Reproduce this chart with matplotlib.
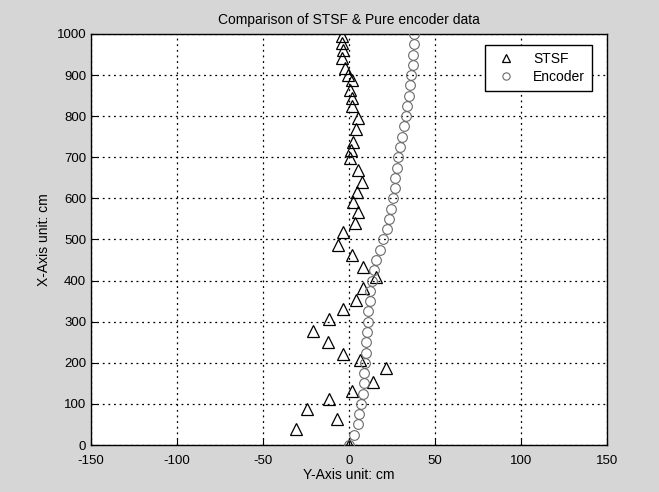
import numpy as np
import matplotlib
matplotlib.use('Agg')
import matplotlib.pyplot as plt

plt.rcParams['font.family'] = ['Liberation Sans Narrow', 'Liberation Sans', 'DejaVu Sans']
plt.rcParams['axes.unicode_minus'] = False

# STSF points (lateral, forward)
stsf_x = [0, -31, -7, -24.6, -11.6, 2, 14, 21.5, 6.4, -3.7, -12.4, -21, -11.6, -3.7, 4, 8.3,
          16, 8, 1.7, -6.4, -3.5, 3.5, 5.4, 2.5, 4.6, 7.5, 5.4, 0.6, 1, 2.5, 4, 5.4, 1.5, 1.5,
          0.6, 1.5, -0.6, -2.3, -4.3, -3.5, -4.3, -4.3]
stsf_y = [0, 39, 63, 88, 112, 131, 153, 187, 207, 221, 251, 278, 306, 331, 353, 382,
          409, 433, 462, 487, 518, 540, 567, 591, 615, 640, 669, 698, 718, 737, 768, 796, 825, 844,
          863, 888, 900, 917, 942, 961, 978, 995]

# encoder points
enc_y = [0, 25, 50, 75, 100, 125, 150, 175, 200, 225, 250, 275, 300, 325, 350, 375, 400,
         425, 450, 475, 500, 525, 550, 575, 600, 625, 650, 675, 700, 725, 750, 775, 800,
         825, 850, 875, 900, 925, 950, 975, 1000]
enc_x = [0, 3, 5, 6, 7, 8, 8.5, 9, 9.5, 10, 10, 10.5, 11, 11, 12, 12.5, 13.5,
         14.5, 16, 18, 20, 22, 23.5, 24.5, 25.5, 26.5, 27, 28, 28.5, 29.5, 31, 32, 33,
         34, 35, 35.5, 36, 37, 37.5, 38, 38]

fig = plt.figure(figsize=(6.59, 4.92), dpi=100, facecolor='#d6d6d6')
ax = fig.add_axes([0.138, 0.0955, 0.783, 0.8355])
ax.set_facecolor('white')

ax.plot(stsf_x, stsf_y, '^', mfc='none', mec='black', ms=8, mew=0.9, label='STSF', zorder=3)
ax.plot(enc_x, enc_y, 'o', mfc='none', mec='#6a6a6a', ms=7, mew=0.8, label='Encoder', zorder=3)

ax.set_xlim(-150, 150)
ax.set_ylim(0, 1000)
ax.set_xticks(np.arange(-150, 151, 50))
ax.set_yticks(np.arange(0, 1001, 100))
ax.grid(True, linestyle=(0, (1.5, 3)), color='black', linewidth=0.9)
ax.tick_params(direction='in', length=4, labelsize=9.5, colors='black')
ax.tick_params(axis='x', pad=7)
for s in ax.spines.values():
    s.set_linewidth(1.0)

ax.set_title('Comparison of STSF & Pure encoder data', fontsize=10, pad=7)
ax.set_xlabel('Y-Axis unit: cm', fontsize=10, labelpad=1)
ax.set_ylabel('X-Axis unit: cm', fontsize=10, labelpad=4)

leg = ax.legend(loc='upper right', bbox_to_anchor=(0.985, 0.99), fancybox=False,
                edgecolor='black', framealpha=1, fontsize=10, handletextpad=1.0,
                borderpad=0.5, labelspacing=0.3, markerscale=0.75)
leg.get_frame().set_linewidth(1.0)

fig.savefig('out.png', dpi=100, facecolor=fig.get_facecolor())
